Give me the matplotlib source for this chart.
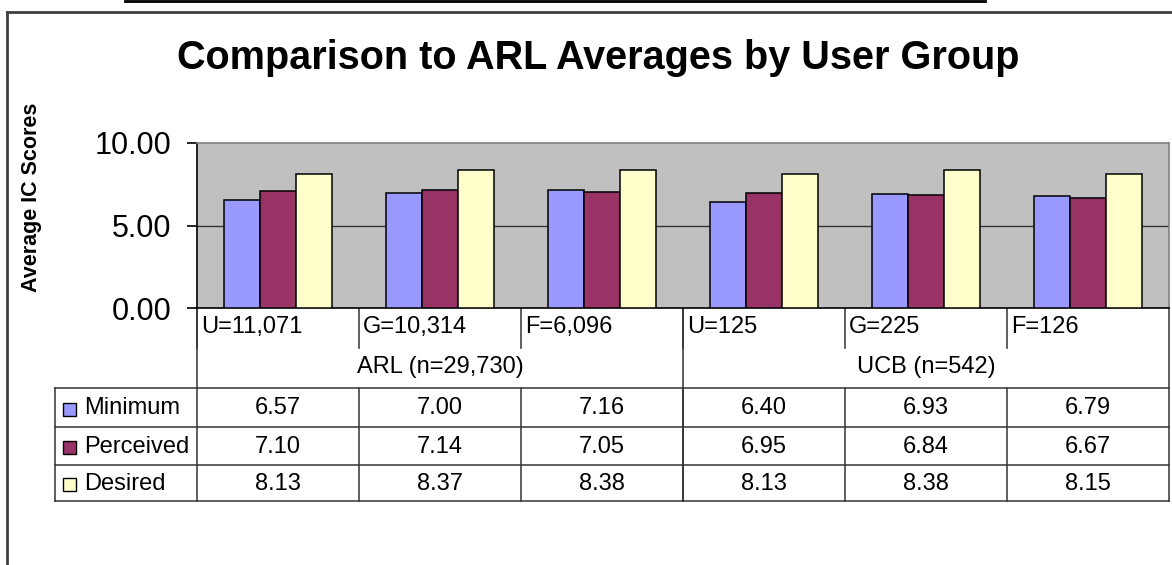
import matplotlib
matplotlib.use("Agg")
import matplotlib.pyplot as plt
from matplotlib.patches import Rectangle

plt.rcParams['font.family'] = ['Liberation Sans', 'DejaVu Sans']

# data
groups = ["ARL (n=29,730)", "UCB (n=542)"]
categories = ["U=11,071", "G=10,314", "F=6,096", "U=125", "G=225", "F=126"]
series = ["Minimum", "Perceived", "Desired"]
minimum = [6.57, 7.00, 7.16, 6.40, 6.93, 6.79]
perceived = [7.10, 7.14, 7.05, 6.95, 6.84, 6.67]
desired = [8.13, 8.37, 8.38, 8.13, 8.38, 8.15]
colors = ["#9999FF", "#993366", "#FFFFCC"]
values = [minimum, perceived, desired]

W, H = 1172, 565
fig = plt.figure(figsize=(W / 100, H / 100), dpi=100)

# plot area in pixels
px0, px1, py0, py1 = 197, 1169, 143, 308
ax = fig.add_axes([px0 / W, 1 - py1 / H, (px1 - px0) / W, (py1 - py0) / H])
ax.set_facecolor("#C0C0C0")
n = len(categories)
bw = 1 / 4.5
for k, (vals, c) in enumerate(zip(values, colors)):
    xs = [i + (k - 1) * bw for i in range(n)]
    ax.bar(xs, vals, width=bw, color=c, edgecolor="black", linewidth=1.1, zorder=3)
ax.set_xlim(-0.5, n - 0.5)
ax.set_ylim(0, 10)
ax.axhline(5, color="#333333", linewidth=1.0, zorder=1)
ax.set_yticks([0, 5, 10])
ax.set_yticklabels(["0.00", "5.00", "10.00"], fontsize=22)
ax.set_xticks([])
ax.tick_params(axis="y", length=7.2, width=1.2, pad=11)
ax.spines["top"].set_color("#808080")
ax.spines["right"].set_color("#808080")
ax.spines["left"].set_color("black")
ax.spines["bottom"].set_color("black")
for s in ax.spines.values():
    s.set_linewidth(1.2)

# overlay axes in pixel coords for table and frame
ov = fig.add_axes([0, 0, 1, 1], zorder=-1)
ov.set_xlim(0, W)
ov.set_ylim(H, 0)
ov.axis("off")
ov.patch.set_alpha(0)

ov.text(32, 197, "Average IC Scores", fontsize=15.5, fontweight="bold",
        rotation=90, ha="center", va="center")

lc = "#333333"
lw = 1.1
# outer frame and top line
ov.plot([125, 985], [1, 1], color="black", linewidth=2)
ov.plot([7, W], [12, 12], color="#404040", linewidth=2)
ov.plot([7, 7], [12, H], color="#404040", linewidth=2)

fig.text(598 / W, 1 - 58 / H, "Comparison to ARL Averages by User Group",
         fontsize=28.5, fontweight="bold", ha="center", va="center")

cw = (px1 - px0) / n
colx = [px0 + i * cw for i in range(n + 1)]
r_cat, r_grp, r_tab = 348, 388, [388, 427, 465, 501]
tfs = 17

# category row
for i, lab in enumerate(categories):
    ov.text(colx[i] + 4, 327, lab, fontsize=tfs, ha="left", va="center")
    ov.plot([colx[i], colx[i]], [py1, r_cat], color=lc, linewidth=lw)
ov.plot([px1, px1], [py1, r_tab[-1]], color=lc, linewidth=lw)
ov.plot([px0, px0], [py1, r_tab[-1]], color=lc, linewidth=lw)
mid = colx[3]
ov.plot([mid, mid], [py1, r_tab[-1]], color=lc, linewidth=lw)
for g, lab in enumerate(groups):
    cx = (colx[g * 3] + colx[g * 3 + 3]) / 2
    ov.text(cx, 367, lab, fontsize=tfs, ha="center", va="center")

# data table
tx0 = 55
for y in r_tab:
    ov.plot([tx0, px1], [y, y], color=lc, linewidth=lw)
ov.plot([tx0, tx0], [r_tab[0], r_tab[-1]], color=lc, linewidth=lw)
for i in range(1, n):
    ov.plot([colx[i], colx[i]], [r_tab[0], r_tab[-1]], color=lc, linewidth=lw)
for r, (name, vals, c) in enumerate(zip(series, values, colors)):
    yc = (r_tab[r] + r_tab[r + 1]) / 2
    ov.add_patch(Rectangle((63, yc - 5), 13, 13, facecolor=c, edgecolor="black", linewidth=1))
    ov.text(84, yc + 1, name, fontsize=tfs, ha="left", va="center")
    for i, v in enumerate(vals):
        ov.text((colx[i] + colx[i + 1]) / 2, yc + 1, f"{v:.2f}", fontsize=tfs,
                ha="center", va="center")

fig.savefig("out.png", dpi=100, facecolor="white")
